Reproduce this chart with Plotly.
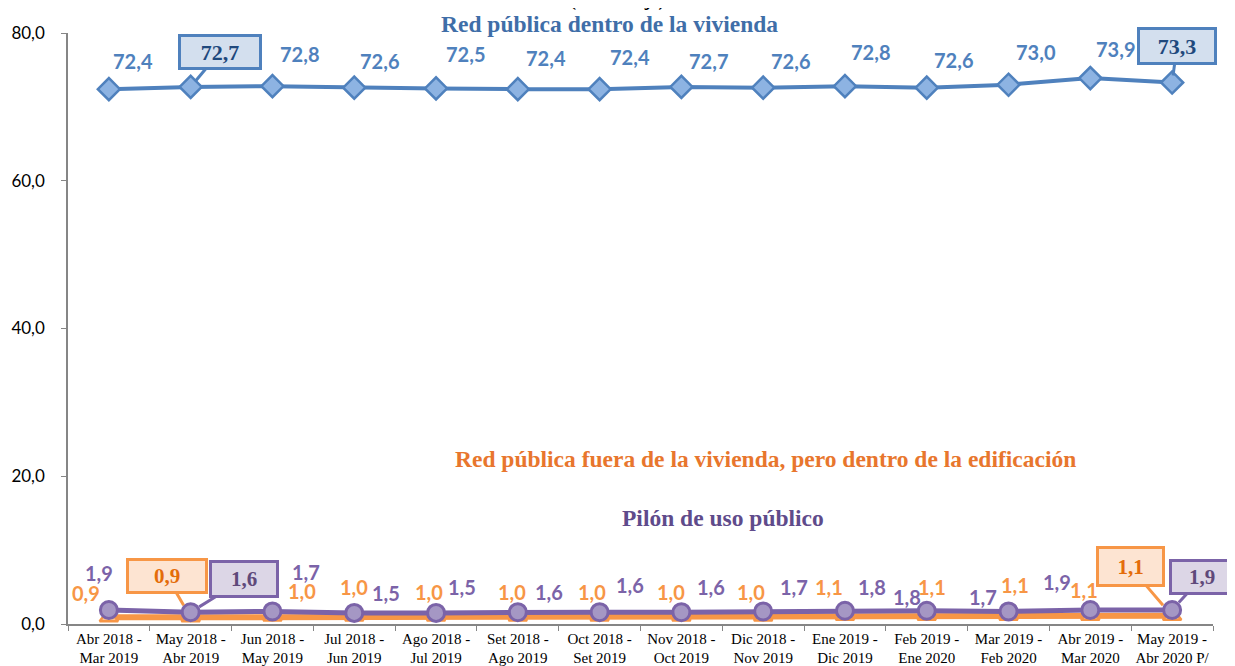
import plotly.graph_objects as go

categories = [
    "Abr 2018 -<br>Mar 2019", "May 2018 -<br>Abr 2019", "Jun 2018 -<br>May 2019",
    "Jul 2018 -<br>Jun 2019", "Ago 2018 -<br>Jul 2019", "Set 2018 -<br>Ago 2019",
    "Oct 2018 -<br>Set 2019", "Nov 2018 -<br>Oct 2019", "Dic 2018 -<br>Nov 2019",
    "Ene 2019 -<br>Dic 2019", "Feb 2019 -<br>Ene 2020", "Mar 2019 -<br>Feb 2020",
    "Abr 2019 -<br>Mar 2020", "May 2019 -<br>Abr 2020 P/",
]
red_dentro = [72.4, 72.7, 72.8, 72.6, 72.5, 72.4, 72.4, 72.7, 72.6, 72.8, 72.6, 73.0, 73.9, 73.3]
red_fuera = [0.9, 0.9, 1.0, 1.0, 1.0, 1.0, 1.0, 1.0, 1.0, 1.1, 1.1, 1.1, 1.1, 1.1]
pilon = [1.9, 1.6, 1.7, 1.5, 1.5, 1.6, 1.6, 1.6, 1.7, 1.8, 1.8, 1.7, 1.9, 1.9]
y_ticks = [0, 20, 40, 60, 80]
y_ticktext = ["0,0", "20,0", "40,0", "60,0", "80,0"]

series_names = ["Red pública dentro de la vivienda",
                "Red pública fuera de la vivienda, pero dentro de la edificación",
                "Pilón de uso público"]

BLUE, BLUE_FILL, BLUE_TXT, BLUE_NAME = "#4F81BD", "#8DB3E2", "#4F81BD", "#3F6EA8"
ORANGE, ORANGE_FILL, ORANGE_TXT, ORANGE_NAME = "#F79646", "#FAC090", "#F79646", "#E8762D"
PURPLE, PURPLE_FILL, PURPLE_TXT, PURPLE_NAME = "#7B63A8", "#A597C4", "#7B63A8", "#5F4B8B"

def fmt(v):
    return f"{v:.1f}".replace(".", ",")

fig = go.Figure()
fig.add_trace(go.Scatter(x=categories, y=red_dentro, mode="lines+markers",
                         line=dict(color=BLUE, width=4),
                         marker=dict(symbol="diamond", size=17, color=BLUE_FILL,
                                     line=dict(color=BLUE, width=2.5))))
fig.add_trace(go.Scatter(x=categories, y=red_fuera, mode="lines+markers",
                         line=dict(color=ORANGE, width=6),
                         marker=dict(symbol="triangle-up", size=16, color=ORANGE_FILL,
                                     line=dict(color=ORANGE, width=2.5))))
fig.add_trace(go.Scatter(x=categories, y=pilon, mode="lines+markers",
                         line=dict(color=PURPLE, width=5),
                         marker=dict(symbol="circle", size=17, color=PURPLE_FILL,
                                     line=dict(color=PURPLE, width=3))))

label_font = "Lato, 'Open Sans', sans-serif"
serif = "'Liberation Serif', 'Times New Roman', serif"

# label offsets (pixels) for plain data labels; None = callout
blue_off = [(24, -28), None, (27, -32), (25, -27), (29, -34), (28, -31), (30, -32),
            (27, -26), (27, -27), (26, -34), (27, -28), (27, -33), (25, -29), None]
orange_off = [(-23, -24), None, (30, -26), (0, -30), (-7, -25), (-6, -25), (-8, -25),
              (-10, -25), (-12, -25), (-16, -29), (5, -29), (6, -31), (-6, -26), None]
purple_off = [(-10, -37), None, (34, -39), (32, -20), (26, -26), (31, -20), (30, -27),
              (30, -25), (31, -24), (27, -24), (-20, -14), (-26, -14), (-33, -28), None]

annotations = []
for vals, offs, col in [(red_dentro, blue_off, BLUE_TXT),
                        (red_fuera, orange_off, ORANGE_TXT),
                        (pilon, purple_off, PURPLE_TXT)]:
    for c, v, o in zip(categories, vals, offs):
        if o is None:
            continue
        annotations.append(dict(x=c, y=v, xref="x", yref="y", text=f"<b>{fmt(v)}</b>",
                                showarrow=False, xshift=o[0], yshift=-o[1],
                                font=dict(family=label_font, size=20, color=col)))

# callouts: (series values, index, ax, ay, border, fill, text color, width, height, standoff, font size)
callouts = [
    (red_dentro, 1, 29, -35, BLUE, "#D3DFEE", "#1F497D", 76, 28, 7, 22),
    (red_dentro, 13, 5, -37, BLUE, "#D3DFEE", "#1F497D", 72, 30, 7, 22),
    (red_fuera, 1, -24, -41, ORANGE, "#FDE4D2", "#E46C0A", 74, 28, 14, 21),
    (pilon, 1, 53, -33, PURPLE, "#DCD6E6", "#5F497A", 62, 30, 10, 21),
    (red_fuera, 13, -42, -49, ORANGE, "#FDE4D2", "#E46C0A", 61, 33, 14, 21),
    (pilon, 13, 30, -33, PURPLE, "#DCD6E6", "#5F497A", 58, 28, 10, 21),
]
for vals, i, ax, ay, bc, fc, tc, w, h, so, fs in callouts:
    annotations.append(dict(x=categories[i], y=vals[i], xref="x", yref="y",
                            text=f"<b>{fmt(vals[i])}</b>", showarrow=True,
                            ax=ax, ay=ay, arrowhead=0, arrowwidth=3, arrowcolor=bc,
                            standoff=so, bgcolor=fc, bordercolor=bc, borderwidth=3,
                            borderpad=1, width=w, height=h,
                            font=dict(family=serif, size=fs, color=tc)))

# series names
annotations += [
    dict(x=0.473, y=1.015, xref="paper", yref="paper", xanchor="center", yanchor="middle",
         text=f"<b>{series_names[0]}</b>",
         showarrow=False, font=dict(family=serif, size=23.5, color=BLUE_NAME)),
    dict(x=0.609, y=0.279, xref="paper", yref="paper", xanchor="center", yanchor="middle",
         text=f"<b>{series_names[1]}</b>",
         showarrow=False, font=dict(family=serif, size=23.5, color=ORANGE_NAME)),
    dict(x=0.572, y=0.179, xref="paper", yref="paper", xanchor="center", yanchor="middle",
         text=f"<b>{series_names[2]}</b>",
         showarrow=False, font=dict(family=serif, size=23.5, color=PURPLE_NAME)),
    dict(x=0.48, y=1.034, xref="paper", yref="paper", yanchor="bottom",
         text="<b>(Porcentaje)</b>", showarrow=False,
         font=dict(family=serif, size=18, color="#000000")),
]

# the page body adds an 8px margin, so the figure is 8px smaller than the window
fig.update_layout(
    width=1227, height=658,
    margin=dict(l=60, r=22, t=25, b=42),
    paper_bgcolor="white", plot_bgcolor="white",
    showlegend=False,
    annotations=annotations,
    xaxis=dict(type="category", range=[-0.5, 13.5], showgrid=False, zeroline=False,
               automargin=False, tickangle=0,
               showline=True, linecolor="#868686", linewidth=1.5,
               ticks="outside", tickson="boundaries", ticklen=5, tickcolor="#868686",
               tickfont=dict(family=serif, size=15, color="#000000")),
    yaxis=dict(range=[0, 80], tickvals=y_ticks, ticktext=y_ticktext, automargin=False,
               showgrid=False, zeroline=False, showline=True,
               linecolor="#868686", linewidth=1.5, ticks="outside", ticklen=5,
               tickcolor="#868686", ticklabelstandoff=13,
               tickfont=dict(family=label_font, size=17, color="#000000")),
)

fig.write_html("out.html")
